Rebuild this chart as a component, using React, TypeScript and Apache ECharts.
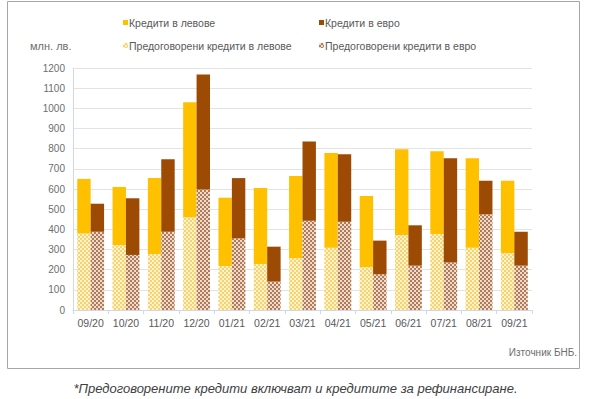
import React, { useEffect, useRef } from "react";
import * as echarts from "echarts";

const months = ["09/20", "10/20", "11/20", "12/20", "01/21", "02/21", "03/21", "04/21", "05/21", "06/21", "07/21", "08/21", "09/21"];
const levTotal = [650, 610, 655, 1030, 557, 605, 664, 778, 565, 797, 787, 752, 641];
const levRefin = [380, 322, 278, 460, 218, 228, 256, 309, 213, 372, 377, 309, 283];
const eurTotal = [527, 554, 747, 1168, 654, 314, 836, 772, 344, 420, 752, 641, 388];
const eurRefin = [388, 273, 388, 598, 355, 141, 443, 438, 177, 220, 235, 474, 220];
const yTicks = { min: 0, max: 1200, interval: 100 };

const FONT = "'Liberation Sans', Arial, sans-serif";
const TXT = "#595959";

export default function App() {
  const ref = useRef<HTMLDivElement>(null);
  useEffect(() => {
    if (!ref.current) return;
    const chart = echarts.init(ref.current, undefined, { renderer: "svg" });
    const levNew = levTotal.map((v, i) => v - levRefin[i]);
    const eurNew = eurTotal.map((v, i) => v - eurRefin[i]);
    const checker = (color: string) => ({
      symbol: "rect",
      symbolSize: 1,
      color,
      dashArrayX: [[2, 2], [0, 2, 2, 0]],
      dashArrayY: [2, 0],
      rotation: 0,
    });
    const legendBase = {
      itemWidth: 5,
      itemHeight: 5,
      icon: "rect",
      itemGap: 0,
      textStyle: { fontSize: 10.5, color: TXT, fontFamily: FONT, padding: [0, 0, 0, -4] },
      padding: 0,
    };
    chart.setOption({
      animation: false,
      textStyle: { fontFamily: FONT },
      legend: [
        { ...legendBase, left: 123, top: 17, data: ["Кредити в левове"] },
        { ...legendBase, left: 319, top: 17, data: ["Кредити в евро"] },
        { ...legendBase, left: 123, top: 40, data: ["Предоговорени кредити в левове"] },
        { ...legendBase, left: 319, top: 40, data: ["Предоговорени кредити в евро"] },
      ],
      grid: { left: 73, right: 59, top: 68, bottom: 89 },
      xAxis: {
        type: "category",
        data: months,
        axisLine: { lineStyle: { color: "#D0D7E5" } },
        axisTick: { show: true, length: 4, lineStyle: { color: "#D0D7E5" } },
        axisLabel: { fontSize: 10.5, color: TXT, margin: 7 },
      },
      yAxis: {
        type: "value",
        ...yTicks,
        axisLine: { show: true, lineStyle: { color: "#D0D7E5" } },
        axisTick: { show: false },
        splitLine: { lineStyle: { color: "#E3E3E3" } },
        axisLabel: { fontSize: 10, color: "#6E6E6E", margin: 8, formatter: (v: number) => String(v) },
      },
      graphic: [
        { type: "rect", shape: { x: 7.5, y: 1.5, width: 572, height: 367 }, style: { fill: "none", stroke: "#A6A6A6", lineWidth: 1 }, z: -10 },
        { type: "text", left: 30, top: 40, style: { text: "млн. лв.", fontSize: 11, fill: "#6E6E6E", fontFamily: FONT } },
        { type: "text", right: 14, top: 347, style: { text: "Източник БНБ.", fontSize: 10, fill: "#6E6E6E", fontFamily: FONT } },
        { type: "text", left: "center", top: 382, style: { text: "*Предоговорените кредити включват и кредитите за рефинансиране.", fontSize: 13, fontStyle: "italic", fill: "#404040", fontFamily: FONT } },
      ],
      series: [
        {
          name: "Предоговорени кредити в левове",
          type: "bar",
          stack: "lev",
          data: levRefin,
          barGap: "0%",
          barCategoryGap: "24%",
          itemStyle: { color: "#FFF3CF", decal: checker("#F7D36E") },
        },
        {
          name: "Кредити в левове",
          type: "bar",
          stack: "lev",
          data: levNew,
          itemStyle: { color: "#FFC000" },
        },
        {
          name: "Предоговорени кредити в евро",
          type: "bar",
          stack: "eur",
          data: eurRefin,
          itemStyle: { color: "#ECDCD0", decal: checker("#B37B55") },
        },
        {
          name: "Кредити в евро",
          type: "bar",
          stack: "eur",
          data: eurNew,
          itemStyle: { color: "#9C4A04" },
        },
      ],
    });
    return () => chart.dispose();
  }, []);
  return <div ref={ref} style={{ width: 591, height: 399, position: "absolute", left: 0, top: 0 }} />;
}
